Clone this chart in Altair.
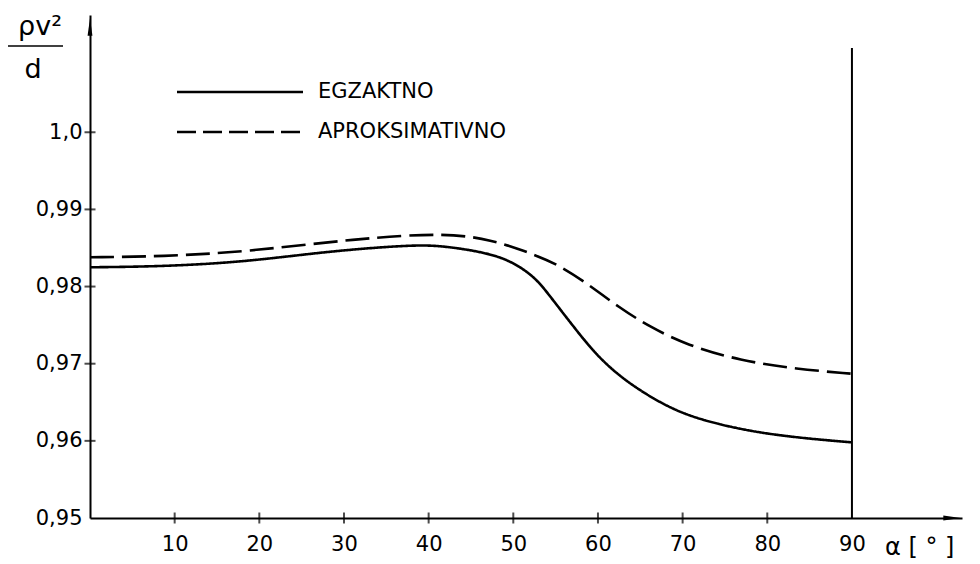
import altair as alt
import pandas as pd

# Angle alpha [deg] and rho*v^2/d for the exact solution
angle_exact = [0, 8.5, 18.4, 28.3, 38, 41.3, 45.2, 48.4, 50.8, 52.8, 54.3, 55.5, 57.9, 59.8,
               62.2, 65.0, 68.1, 71.7, 79.5, 90]
value_exact = [0.9825, 0.9826, 0.9832, 0.9846, 0.9854, 0.9853, 0.9847, 0.9839, 0.9826, 0.9809,
               0.9788, 0.9771, 0.9737, 0.9712, 0.9687, 0.9665, 0.9645, 0.9628, 0.9608, 0.9598]

# Same quantity from the approximate solution
angle_approx = [0, 8.5, 18.4, 31.4, 42.1, 47.6, 51.1, 55.1, 58.6, 62.6, 66.1, 70.5, 76.8, 83.5, 90]
value_approx = [0.9838, 0.9839, 0.9845, 0.9862, 0.9870, 0.9860, 0.9847, 0.9830, 0.9805,
                0.9772, 0.9748, 0.9724, 0.9704, 0.9693, 0.9687]

series_names = ["EGZAKTNO", "APROKSIMATIVNO"]
x_ticks = [10, 20, 30, 40, 50, 60, 70, 80, 90]
y_ticks = [0.95, 0.96, 0.97, 0.98, 0.99, 1.0]

X_MAX = 103
Y_MIN, Y_MAX = 0.95, 1.0152
W, H = 872, 503
FONT = "DejaVu Sans"

curves = pd.concat([
    pd.DataFrame({"alpha": angle_exact, "value": value_exact, "series": series_names[0]}),
    pd.DataFrame({"alpha": angle_approx, "value": value_approx, "series": series_names[1]}),
])

x_scale = alt.Scale(domain=[0, X_MAX], nice=False, zero=False)
y_scale = alt.Scale(domain=[Y_MIN, Y_MAX], nice=False, zero=False)

x_axis = alt.Axis(values=x_ticks, title=None, ticks=False, tickSize=0, labelPadding=15,
                  labelFontSize=21, grid=False, domainWidth=2, domainColor="black")
y_axis = alt.Axis(values=y_ticks, title=None, ticks=False, tickSize=0, labelPadding=8,
                  labelFontSize=21, grid=False, domainWidth=2, domainColor="black",
                  labelExpr="datum.value >= 0.9999 ? '1,0' : replace(format(datum.value, '.2f'), '.', ',')")

one = alt.Data(values=[{}])

lines = alt.Chart(curves).mark_line(interpolate="basis", strokeWidth=2.6, color="black").encode(
    x=alt.X("alpha:Q", scale=x_scale, axis=x_axis),
    y=alt.Y("value:Q", scale=y_scale, axis=y_axis),
    strokeDash=alt.StrokeDash("series:N", scale=alt.Scale(domain=series_names, range=[[1, 0], [24, 8]]),
                              legend=None),
    detail="series:N",
)

# cross-shaped tick marks on both axes
x_cross = alt.Chart(pd.DataFrame({"alpha": x_ticks[:-1]})).mark_tick(
    orient="vertical", size=11, thickness=2, color="black").encode(
    x=alt.X("alpha:Q", scale=x_scale, axis=x_axis),
    y=alt.YDatum(Y_MIN, type="quantitative", scale=y_scale, axis=y_axis),
)
y_cross = alt.Chart(pd.DataFrame({"value": y_ticks[1:]})).mark_tick(
    orient="horizontal", size=11, thickness=2, color="black").encode(
    x=alt.XDatum(0, type="quantitative", scale=x_scale, axis=x_axis),
    y=alt.Y("value:Q", scale=y_scale, axis=y_axis),
)

# boundary at alpha = 90 deg
limit = alt.Chart(one).mark_rule(strokeWidth=2, color="black").encode(
    x=alt.XDatum(90, type="quantitative", scale=x_scale, axis=x_axis),
    y=alt.value(33), y2=alt.value(H),
)

# axis arrowheads
arrow_up = alt.Chart(one).mark_point(shape="M0,-1L0.28,1L-0.28,1Z", size=300, filled=True,
                                     opacity=1, color="black").encode(
    x=alt.value(0), y=alt.value(12))
arrow_right = alt.Chart(one).mark_point(shape="M1,0L-1,-0.28L-1,0.28Z", size=300, filled=True,
                                        opacity=1, color="black").encode(
    x=alt.value(862), y=alt.value(H))

# hand-made legend
leg_solid = alt.Chart(one).mark_rule(strokeWidth=2.5, color="black").encode(
    x=alt.value(87), x2=alt.value(213), y=alt.value(77))
leg_dash = alt.Chart(one).mark_rule(strokeWidth=2.5, color="black", strokeDash=[19, 7]).encode(
    x=alt.value(87), x2=alt.value(213), y=alt.value(117))
leg_txt1 = alt.Chart(one).mark_text(align="left", baseline="middle", fontSize=21, font=FONT,
                                    color="black").encode(
    x=alt.value(228), y=alt.value(77), text=alt.value(series_names[0]))
leg_txt2 = alt.Chart(one).mark_text(align="left", baseline="middle", fontSize=21, font=FONT,
                                    color="black").encode(
    x=alt.value(228), y=alt.value(117), text=alt.value(series_names[1]))

# y-axis quantity written as a fraction
num = alt.Chart(one).mark_text(align="center", baseline="middle", fontSize=27, font=FONT,
                               color="black").encode(
    x=alt.value(-50), y=alt.value(12), text=alt.value("ρv²"))
bar = alt.Chart(one).mark_rule(strokeWidth=1.5, color="black").encode(
    x=alt.value(-82), x2=alt.value(-27), y=alt.value(31))
den = alt.Chart(one).mark_text(align="center", baseline="middle", fontSize=27, font=FONT,
                               color="black").encode(
    x=alt.value(-57), y=alt.value(55), text=alt.value("d"))

# x-axis quantity
x_title = alt.Chart(one).mark_text(align="left", baseline="middle", fontSize=24, font=FONT,
                                   color="black").encode(
    x=alt.value(795), y=alt.value(533), text=alt.value("α  [ ° ]"))

chart = alt.layer(
    lines, x_cross, y_cross, limit, arrow_up, arrow_right,
    leg_solid, leg_dash, leg_txt1, leg_txt2, num, bar, den, x_title,
).properties(
    width=W, height=H,
    padding={"left": 90, "top": 15, "right": 18, "bottom": 46},
    autosize="none",
    background="white",
).configure_view(stroke=None).configure_axis(
    labelFont=FONT, labelColor="black",
)

chart.save("out.html", embed_options={"renderer": "svg", "actions": False})
